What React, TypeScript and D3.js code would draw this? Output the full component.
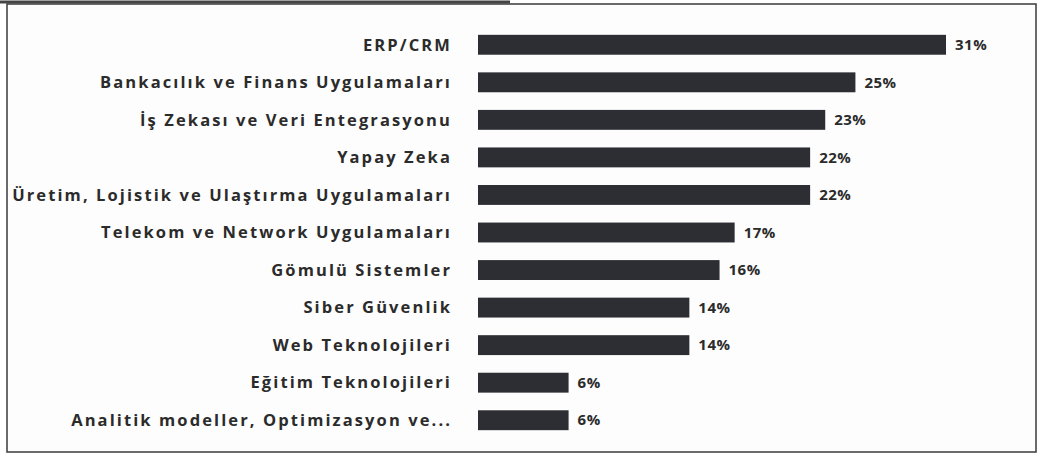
import React, { useEffect, useRef } from "react";
import * as d3 from "d3";

const width = 1042;
const height = 459;

const categories = [
  "ERP/CRM",
  "Bankacılık ve Finans Uygulamaları",
  "İş Zekası ve Veri Entegrasyonu",
  "Yapay Zeka",
  "Üretim, Lojistik ve Ulaştırma Uygulamaları",
  "Telekom ve Network Uygulamaları",
  "Gömulü Sistemler",
  "Siber Güvenlik",
  "Web Teknolojileri",
  "Eğitim Teknolojileri",
  "Analitik modeller, Optimizasyon ve..."
];
const values = [31, 25, 23, 22, 22, 17, 16, 14, 14, 6, 6];
const valueLabels = ["31%", "25%", "23%", "22%", "22%", "17%", "16%", "14%", "14%", "6%", "6%"];

const barColor = "#2c2e33";
const textColor = "#2b2b2b";
const font = "'Open Sans', 'DejaVu Sans', sans-serif";

export default function App() {
  const ref = useRef<SVGSVGElement>(null);

  useEffect(() => {
    document.body.style.margin = "0";
    const svg = d3.select(ref.current);
    svg.selectAll("*").remove();

    // outer frame of the scanned figure
    svg.append("rect")
      .attr("x", 7)
      .attr("y", 4)
      .attr("width", 1029)
      .attr("height", 448)
      .attr("fill", "#fdfdfd")
      .attr("stroke", "#3a3a3a")
      .attr("stroke-width", 1.5);
    svg.append("line")
      .attr("x1", 0).attr("x2", 510)
      .attr("y1", 2).attr("y2", 2)
      .attr("stroke", "#444")
      .attr("stroke-width", 3);

    const x = d3.scaleLinear()
      .domain([0, d3.max(values) as number])
      .range([478, 946]);

    const y = d3.scaleBand()
      .domain(categories)
      .range([26, 439])
      .paddingInner(0.47)
      .paddingOuter(0.235);

    const rows = categories.map((c, i) => ({ name: c, value: values[i], label: valueLabels[i] }));

    svg.selectAll("rect.bar")
      .data(rows)
      .enter()
      .append("rect")
      .attr("class", "bar")
      .attr("x", x(0))
      .attr("y", d => y(d.name) as number)
      .attr("width", d => x(d.value) - x(0))
      .attr("height", y.bandwidth())
      .attr("fill", barColor);

    svg.selectAll("text.cat")
      .data(rows)
      .enter()
      .append("text")
      .attr("class", "cat")
      .attr("x", 452)
      .attr("y", d => (y(d.name) as number) + y.bandwidth() / 2)
      .attr("dy", "0.35em")
      .attr("text-anchor", "end")
      .attr("font-family", font)
      .attr("font-weight", "bold")
      .attr("font-size", 16.5)
      .attr("letter-spacing", 2.1)
      .attr("fill", textColor)
      .text(d => d.name);

    svg.selectAll("text.val")
      .data(rows)
      .enter()
      .append("text")
      .attr("class", "val")
      .attr("x", d => x(d.value) + 9)
      .attr("y", d => (y(d.name) as number) + y.bandwidth() / 2)
      .attr("dy", "0.35em")
      .attr("font-family", font)
      .attr("font-weight", "bold")
      .attr("font-size", 15)
      .attr("letter-spacing", 0.5)
      .attr("fill", textColor)
      .text(d => d.label);
  }, []);

  return <svg ref={ref} width={width} height={height} style={{ display: "block" }} />;
}
